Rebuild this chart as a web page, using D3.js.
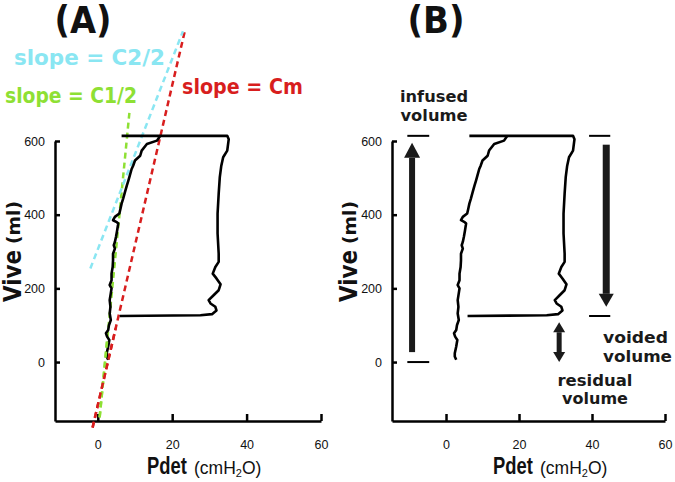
<!DOCTYPE html>
<html>
<head>
<meta charset="utf-8">
<script src="https://cdn.jsdelivr.net/npm/d3@7"></script>
<style>
  body { margin: 0; background: #fff; }
  svg { display: block; }
  .axis path, .axis line { stroke: #000; stroke-width: 2.5px; }
  .axis text { font-family: "Liberation Sans", Arial, sans-serif; font-size: 12.5px; fill: #111; }
  .gothic { font-family: "DejaVu Sans", sans-serif; font-weight: bold; }
  .plain { font-family: "Liberation Sans", Arial, sans-serif; }
</style>
</head>
<body>
<div id="chart"></div>
<script>
// ticks
var xTicks = [0, 20, 40, 60];
var yTicks = [0, 200, 400, 600];

// filling limb (Pdet, Vive) from bottom to the top of the loop
var fillP = [2.8, 2.4, 2.4, 2.8, 3.1, 2.5, 2.2, 2.8, 3.0, 3.5, 3.2, 3.4, 3.2, 3.5, 3.7, 3.2, 3.7, 3.7,
  4.0, 4.1, 4.1, 4.6, 4.3, 4.6, 4.9, 5.2, 5.5, 5.1, 4.1, 4.6, 5.8, 6.1, 6.4, 6.8, 7.3, 7.8, 8.2, 8.6,
  9.1, 9.5, 10.0, 11.4, 11.8, 13.2, 15.9, 16.8];
var fillV = [6, 15, 24, 42, 60, 69, 78, 87, 100, 114, 132, 150, 168, 187, 200, 209, 222, 240,
  258, 276, 294, 308, 317, 326, 340, 357, 376, 380, 385, 394, 403, 416, 430, 443, 461, 479, 492, 506,
  524, 533, 547, 560, 574, 592, 601, 614];

// top plateau, voiding limb and bottom return
var voidP = [6.4, 34.8, 35.2, 34.8, 33.7, 33.2, 32.8, 32.5, 32.2, 32.2, 32.5, 32.5, 31.6, 30.9,
  31.9, 33.0, 32.5, 31.2, 29.8, 30.3, 31.6, 31.9, 30.7, 27.6, 5.9];
var voidV = [614, 614, 605, 574, 556, 533, 502, 457, 403, 349, 294, 272, 258, 240,
  227, 211, 195, 182, 168, 159, 150, 140, 130, 127, 125];

// compliance lines in panel A: [P0, V0, P1, V1]
var slopeNames = ['slope = Cm', 'slope = C1/2', 'slope = C2/2'];
var slopeLines = [[-1.4, -178, 23.5, 903], [0.5, -150, 8.5, 677], [-2.0, 254, 22.9, 898]];
var slopeColors = ['#d81e1e', '#8ee034', '#8ae6f2'];

// panel B volume markers: [P, Vfrom, Vto]
var infusedArrow = [-9.3, 27, 595];
var voidedArrow = [43.9, 590, 150];
var residualArrow = [31, 0, 108];
var markTicks = [[-10.6, -4.6, 614], [-10.6, -4.6, 0], [39.2, 45, 614], [39.2, 45, 125]];

var fillSeries = fillP.map((p, i) => [p, fillV[i]]);
var voidSeries = voidP.map((p, i) => [p, voidV[i]]);

var svg = d3.select('#chart').append('svg').attr('width', 675).attr('height', 482);

function drawPanel(cfg) {
  var x = d3.scaleLinear().domain(cfg.xDomain).range(cfg.xRange);
  var y = d3.scaleLinear().domain([-160, 600]).range([421, 141]);
  var g = svg.append('g');

  g.append('g')
    .attr('class', 'axis')
    .attr('transform', `translate(0,${y(-160)})`)
    .call(d3.axisBottom(x).tickValues(xTicks).tickSizeInner(-7).tickSizeOuter(0).tickPadding(19))
    .call(s => s.selectAll('text').attr('dy', '0.71em'));

  g.append('g')
    .attr('class', 'axis')
    .attr('transform', `translate(${x(cfg.xDomain[0])},0)`)
    .call(d3.axisLeft(y).tickValues(yTicks).tickSizeInner(-5).tickSizeOuter(0).tickPadding(10));

  var line = d3.line().x(d => x(d[0])).y(d => y(d[1]));

  if (cfg.slopes) {
    slopeLines.forEach(function(l, i) {
      g.append('line')
        .attr('x1', x(l[0])).attr('y1', y(l[1]))
        .attr('x2', x(l[2])).attr('y2', y(l[3]))
        .attr('stroke', slopeColors[i])
        .attr('stroke-width', 2.5)
        .attr('stroke-dasharray', '6,4');
    });
  }

  [fillSeries, voidSeries].forEach(function(s) {
    g.append('path')
      .attr('d', line(s))
      .attr('fill', 'none')
      .attr('stroke', '#000')
      .attr('stroke-width', 2.6)
      .attr('stroke-linejoin', 'round');
  });

  if (cfg.slopes) {
    // green and red dashes sit on top of the trace near the bottom
    [1, 0].forEach(function(i) {
      var l = slopeLines[i];
      g.append('line')
        .attr('x1', x(l[0])).attr('y1', y(l[1]))
        .attr('x2', x(l[0] + (l[2] - l[0]) * 0.25)).attr('y2', y(l[1] + (l[3] - l[1]) * 0.25))
        .attr('stroke', slopeColors[i])
        .attr('stroke-width', 2.5)
        .attr('stroke-dasharray', '6,4');
    });
  }

  // axis titles
  g.append('text')
    .attr('class', 'gothic')
    .attr('transform', `translate(${cfg.yLabelX},302) rotate(-90)`)
    .attr('font-size', 24)
    .attr('textLength', 52)
    .attr('lengthAdjust', 'spacingAndGlyphs')
    .attr('fill', '#111')
    .text('Vive');
  g.append('text')
    .attr('class', 'gothic')
    .attr('transform', `translate(${cfg.yLabelX - 1},244) rotate(-90)`)
    .attr('font-size', 17)
    .attr('textLength', 43)
    .attr('lengthAdjust', 'spacingAndGlyphs')
    .attr('fill', '#111')
    .text('(ml)');

  // condensed bold "Pdet"
  g.append('text')
    .attr('class', 'plain')
    .attr('transform', `translate(${cfg.xLabelX},474) scale(0.8,1)`)
    .attr('font-size', 23)
    .attr('font-weight', 'bold')
    .attr('fill', '#111')
    .text('Pdet');

  var xl = g.append('text')
    .attr('class', 'plain')
    .attr('x', cfg.xLabelX + 47)
    .attr('y', 474)
    .attr('font-size', 17.5)
    .attr('fill', '#111');
  xl.append('tspan').text('(cmH');
  xl.append('tspan').attr('font-size', 11).attr('dy', 3).text('2');
  xl.append('tspan').attr('dy', -3).text('O)');

  g.append('text')
    .attr('class', 'gothic')
    .attr('x', cfg.titleX)
    .attr('y', 33)
    .attr('text-anchor', 'middle')
    .attr('font-size', 37)
    .attr('textLength', 57)
    .attr('lengthAdjust', 'spacingAndGlyphs')
    .attr('fill', '#111')
    .text(cfg.title);

  return { g, x, y };
}

var A = drawPanel({ xDomain: [-11.5, 60], xRange: [55, 321], yLabelX: 21, xLabelX: 147, titleX: 83, title: '(A)', slopes: true });
var B = drawPanel({ xDomain: [-14.8, 60], xRange: [392, 665], yLabelX: 357, xLabelX: 493, titleX: 436, title: '(B)', slopes: false });

// slope labels
var slopeLabelPos = [[182, 94, 121], [5, 103, 132], [14, 65, 151]];
slopeNames.forEach(function(name, i) {
  A.g.append('text')
    .attr('class', 'gothic')
    .attr('x', slopeLabelPos[i][0])
    .attr('y', slopeLabelPos[i][1])
    .attr('font-size', 21)
    .attr('font-weight', 'normal')
    .attr('textLength', slopeLabelPos[i][2])
    .attr('lengthAdjust', 'spacingAndGlyphs')
    .attr('fill', slopeColors[i])
    .text(name);
});

// panel B annotations
function arrow(g, x, y, a, headW, headH, shaftW, both) {
  var px = x(a[0]), y0 = y(a[1]), y1 = y(a[2]);
  var dir = y1 < y0 ? -1 : 1;
  var s0 = both ? y0 + dir * headH : y0;
  var s1 = y1 - dir * headH;
  g.append('rect')
    .attr('x', px - shaftW / 2)
    .attr('y', Math.min(s0, s1))
    .attr('width', shaftW)
    .attr('height', Math.abs(s1 - s0))
    .attr('fill', '#1a1a1a');
  var heads = both ? [[y1, dir], [y0, -dir]] : [[y1, dir]];
  heads.forEach(function(h) {
    var tip = h[0], d = h[1];
    g.append('path')
      .attr('d', `M${px},${tip}L${px - headW / 2},${tip - d * headH}L${px + headW / 2},${tip - d * headH}Z`)
      .attr('fill', '#1a1a1a');
  });
}

arrow(B.g, B.x, B.y, infusedArrow, 16, 15, 6, false);
arrow(B.g, B.x, B.y, voidedArrow, 15, 13, 7, false);
arrow(B.g, B.x, B.y, residualArrow, 12, 10, 5, true);

markTicks.forEach(function(t) {
  B.g.append('line')
    .attr('x1', B.x(t[0])).attr('x2', B.x(t[1]))
    .attr('y1', B.y(t[2])).attr('y2', B.y(t[2]))
    .attr('stroke', '#000')
    .attr('stroke-width', 2);
});

var noteLines = [
  ['infused', 434, 102, 'middle', 68], ['volume', 434, 121, 'middle', 67],
  ['voided', 603, 343, 'start', 65], ['volume', 603, 362, 'start', 69],
  ['residual', 595, 386, 'middle', 75], ['volume', 595, 404, 'middle', 66]
];
noteLines.forEach(function(n) {
  B.g.append('text')
    .attr('class', 'gothic')
    .attr('x', n[1])
    .attr('y', n[2])
    .attr('text-anchor', n[3])
    .attr('font-size', 16.5)
    .attr('font-weight', 'normal')
    .attr('textLength', n[4])
    .attr('lengthAdjust', 'spacingAndGlyphs')
    .attr('fill', '#1a1a1a')
    .text(n[0]);
});
</script>
</body>
</html>
